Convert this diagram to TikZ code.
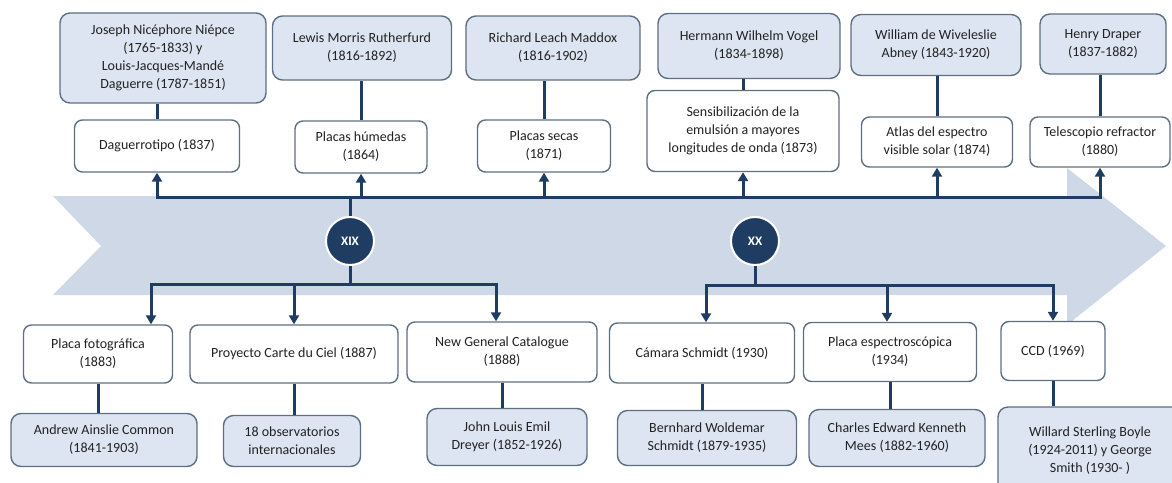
\documentclass[tikz,border=0pt]{standalone}
\usepackage{fontspec}
\setmainfont{Carlito}
\usetikzlibrary{positioning,arrows.meta,calc}
\definecolor{navy}{HTML}{1F3D63}
\definecolor{banda}{HTML}{CFD8E6}
\definecolor{azul}{HTML}{DCE5F1}
\definecolor{borde}{HTML}{5F6F82}
\definecolor{texto}{HTML}{222222}
\tikzset{
  pers/.style={draw=borde, fill=azul, rounded corners=10pt, align=center,
               line width=1.4pt, inner sep=2pt, text=texto},
  evt/.style={draw=borde, fill=white, rounded corners=8pt, align=center,
              line width=1.4pt, inner sep=2pt, text=texto},
  siglo/.style={circle, fill=navy, draw=white, line width=2pt, text=white,
                font=\bfseries\fontsize{13}{15}\selectfont, minimum size=48pt, inner sep=0pt},
  tie/.style={draw=navy, line width=3pt},
  flow/.style={-{Triangle[length=9pt, width=10pt]}, tie},
}

\begin{document}
\begin{tikzpicture}[x=1pt, y=-1pt, font=\fontsize{14}{18}\selectfont]
        \path[use as bounding box] (0,0) rectangle (1172,482);
        \clip (0,0) rectangle (1172,482);
        \fill[banda] (53,196) -- (1067,196) -- (1067,168) -- (1166,246) -- (1067,325)
          -- (1067,295) -- (53,295) -- (101,246) -- cycle;

        \node[pers, minimum width=206pt, minimum height=90pt] (n1) at (163,58) {Joseph Nicéphore Niépce\\(1765-1833) y\\Louis-Jacques-Mandé\\Daguerre (1787-1851)};
        \node[pers, minimum width=179pt, minimum height=64pt] (n2) at (362,48) {Lewis Morris Rutherfurd\\(1816-1892)};
        \node[pers, minimum width=174pt, minimum height=64pt] (n3) at (553,48) {Richard Leach Maddox\\(1816-1902)};
        \node[pers, minimum width=182pt, minimum height=65pt] (n4) at (749,46) {Hermann Wilhelm Vogel\\(1834-1898)};
        \node[pers, minimum width=170pt, minimum height=61pt] (n5) at (936,45) {William de Wiveleslie\\Abney (1843-1920)};
        \node[pers, minimum width=126pt, minimum height=60pt] (n6) at (1103,44) {Henry Draper\\(1837-1882)};

        \node[evt, minimum width=165pt, minimum height=52pt] (e1) at (157,146) {Daguerrotipo (1837)};
        \node[evt, minimum width=132pt, minimum height=52pt] (e2) at (361,147) {Placas húmedas\\(1864)};
        \node[evt, minimum width=133pt, minimum height=52pt] (e3) at (544,146) {Placas secas\\(1871)};
        \node[evt, minimum width=192pt, minimum height=81pt] (e4) at (743,131) {Sensibilización de la\\emulsión a mayores\\longitudes de onda (1873)};
        \node[evt, minimum width=151pt, minimum height=50pt] (e5) at (937,142) {Atlas del espectro\\visible solar (1874)};
        \node[evt, minimum width=140pt, minimum height=50pt] (e6) at (1100,142) {Telescopio refractor\\(1880)};

        \node[evt, minimum width=149pt, minimum height=58pt] (b1) at (98,354) {Placa fotográfica\\(1883)};
        \node[evt, minimum width=208pt, minimum height=58pt] (b2) at (294,354) {Proyecto Carte du Ciel (1887)};
        \node[evt, minimum width=190pt, minimum height=60pt] (b3) at (502,352) {New General Catalogue\\(1888)};
        \node[evt, minimum width=185pt, minimum height=60pt] (b4) at (702,353) {Cámara Schmidt (1930)};
        \node[evt, minimum width=173pt, minimum height=59pt] (b5) at (890,352) {Placa espectroscópica\\(1934)};
        \node[evt, minimum width=104pt, minimum height=59pt] (b6) at (1053,351) {CCD (1969)};

        \node[pers, minimum width=186pt, minimum height=53pt] (p1) at (104,440) {Andrew Ainslie Common\\(1841-1903)};
        \node[pers, minimum width=137pt, minimum height=51pt] (p2) at (292,441) {18 observatorios\\internacionales};
        \node[pers, minimum width=160pt, minimum height=57pt] (p3) at (507,437) {John Louis Emil\\Dreyer (1852-1926)};
        \node[pers, minimum width=179pt, minimum height=55pt] (p4) at (707,438) {Bernhard Woldemar\\Schmidt (1879-1935)};
        \node[pers, minimum width=176pt, minimum height=57pt] (p5) at (897,438) {Charles Edward Kenneth\\Mees (1882-1960)};
        \node[pers, minimum width=184pt, minimum height=88pt] (p6) at (1090,451) {Willard Sterling Boyle\\(1924-2011) y George\\Smith (1930- )};

        \node[siglo] (xix) at (350,241) {XIX};
        \node[siglo] (xx) at (755,241) {XX};

        \coordinate (arriba) at (0,197);
        \coordinate (a1) at (151,284);
        \coordinate (a2) at (294,284);
        \coordinate (a3) at (496,284);
        \coordinate (a4) at (706,285);
        \coordinate (a5) at (887,285);
        \coordinate (a6) at (1053,285);

        \foreach \i in {1,...,6} {
          \draw[tie] (e\i.north) -- (e\i.north |- n\i.south);
          \draw[tie] (b\i.south) -- (b\i.south |- p\i.north);
          \draw[flow] (e\i.south |- arriba) -- (e\i.south);
          \draw[flow] (a\i) -- (a\i |- b\i.north);
        }
        \draw[tie, line cap=rect] (e1.south |- arriba) -- (e6.south |- arriba);
        \draw[tie, line cap=rect] (a1) -- (a3);
        \draw[tie, line cap=rect] (a4) -- (a6);
        \draw[tie] (xix.north) -- (xix.north |- arriba);
        \draw[tie] (xix.south) -- (xix.south |- a1);
        \draw[tie] (xx.south) -- (xx.south |- a4);
      \end{tikzpicture}
\end{document}
